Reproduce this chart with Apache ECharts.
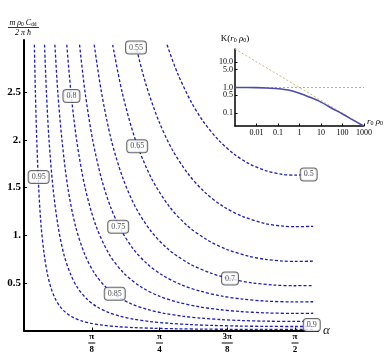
<!DOCTYPE html>
<html><head><meta charset="utf-8">
<script src="https://cdn.jsdelivr.net/npm/echarts@6/dist/echarts.min.js"></script>
<style>html,body{margin:0;padding:0;background:#fff}#c{width:388px;height:354px}</style>
</head><body><div id="c"></div>
<script>
// ---- main contour plot data: points [alpha (rad), y] ----
const c050 = [[0.829,3.0],[0.890,2.7],[0.969,2.4],[1.037,2.2],[1.127,2.0],[1.219,1.85],[1.306,1.75],[1.4,1.679],[1.5,1.638],[1.571,1.632],[1.676,1.636]];
const c055 = [[0.647,3.0],[0.704,2.6],[0.781,2.2],[0.859,1.9],[0.949,1.65],[1.049,1.45],[1.157,1.3],[1.264,1.2],[1.4,1.122],[1.5,1.096],[1.571,1.09],[1.676,1.094]];
const c065 = [[0.514,3.0],[0.569,2.5],[0.646,2.0],[0.738,1.6],[0.843,1.3],[0.947,1.1],[1.063,0.95],[1.177,0.85],[1.303,0.78],[1.4,0.747],[1.5,0.729],[1.571,0.725],[1.676,0.728]];
const c070 = [[0.407,3.0],[0.449,2.5],[0.506,2.0],[0.573,1.6],[0.645,1.3],[0.733,1.05],[0.838,0.85],[0.960,0.7],[1.087,0.6],[1.202,0.54],[1.323,0.5],[1.45,0.477],[1.571,0.47],[1.676,0.472]];
const c075 = [[0.322,3.0],[0.354,2.5],[0.398,2.0],[0.448,1.6],[0.501,1.3],[0.564,1.05],[0.636,0.85],[0.714,0.7],[0.803,0.58],[0.912,0.48],[1.027,0.41],[1.150,0.36],[1.265,0.33],[1.4,0.309],[1.571,0.30],[1.676,0.302]];
const c080 = [[0.248,3.0],[0.272,2.5],[0.305,2.0],[0.354,1.5],[0.417,1.1],[0.494,0.8],[0.580,0.6],[0.685,0.45],[0.785,0.36],[0.886,0.3],[1.013,0.25],[1.130,0.22],[1.249,0.2],[1.4,0.185],[1.571,0.18],[1.676,0.181]];
const c085 = [[0.179,3.0],[0.196,2.5],[0.220,2.0],[0.254,1.5],[0.298,1.1],[0.352,0.8],[0.409,0.6],[0.477,0.45],[0.548,0.35],[0.622,0.28],[0.717,0.22],[0.814,0.18],[0.920,0.15],[1.026,0.13],[1.141,0.115],[1.257,0.105],[1.4,0.098],[1.571,0.095],[1.676,0.0955]];
const c090 = [[0.119,3.0],[0.130,2.5],[0.145,2.0],[0.168,1.5],[0.197,1.1],[0.231,0.8],[0.268,0.6],[0.310,0.45],[0.365,0.33],[0.422,0.25],[0.490,0.19],[0.558,0.15],[0.633,0.12],[0.727,0.095],[0.846,0.075],[0.967,0.062],[1.098,0.053],[1.239,0.047],[1.4,0.0433],[1.571,0.042],[1.676,0.0422]];
const c095 = [[0.060,3.0],[0.066,2.5],[0.074,2.0],[0.085,1.5],[0.099,1.1],[0.117,0.8],[0.135,0.6],[0.156,0.45],[0.182,0.33],[0.209,0.25],[0.241,0.19],[0.281,0.14],[0.335,0.1],[0.389,0.075],[0.459,0.055],[0.546,0.04],[0.644,0.03],[0.755,0.023],[0.886,0.018],[1.041,0.0145],[1.193,0.0125],[1.4,0.0111],[1.571,0.0108],[1.676,0.0109]];

// contour labels
const labelText  = ['0.55','0.5','0.8','0.65','0.95','0.75','0.7','0.85','0.9'];
const labelAlpha = [0.649,1.650,0.275,0.656,0.085,0.546,1.194,0.526,1.668];
const labelY     = [2.97,1.639,2.462,1.934,1.611,1.090,0.545,0.385,0.059];

// main axis ticks
const xTickValues = [Math.PI/8, Math.PI/4, 3*Math.PI/8, Math.PI/2];
const xTickNum = ['π','π','3π','π'];
const xTickDen = ['8','4','8','2'];
const yTickValues = [0.5,1,1.5,2,2.5];
const yTickLabels = ['0.5','1.','1.5','2.','2.5'];

// ---- inset: K(r0 rho0), log-log ----
const kR   = [0.001,0.01,0.03,0.1,0.3,1,3,10,30,100,300,1000];
const kVal = [1.0,0.99,0.96,0.9,0.8,0.6,0.42,0.27,0.16,0.093,0.055,0.031];
const asymR   = [0.001,1000];
const asymVal = [31.6,0.0316];
const unityR   = [0.001,1000];
const unityVal = [1,1];
const insetXTicks = [0.01,0.1,1,10,100,1000];
const insetXLabels = ['0.01','0.1','1','10','100','1000'];
const insetYTicks = [0.1,0.5,1,5,10];
const insetYLabelVals = [0.1,0.5,1,5];
const insetYLabels = ['0.1','0.5','1.0','5.0'];
const insetYTopTick = [10];
const insetYTopLabel = ['10.0'];

const serif = 'Liberation Serif';
const contours = [c050,c055,c065,c070,c075,c080,c085,c090,c095];
const lg = v => Math.log10(v);

const chart = echarts.init(document.getElementById('c'), null, {renderer:'canvas'});

const series = contours.map(d => ({
  type:'line', data:d, symbol:'none', smooth:0.3, silent:true, clip:true,
  xAxisIndex:0, yAxisIndex:0,
  lineStyle:{color:'#1c1cc0', width:1.3, type:[3,2]}
}));
series.push({
  type:'scatter', xAxisIndex:0, yAxisIndex:0, symbolSize:0, silent:true, z:5,
  data: labelText.map((t,i)=>({value:[labelAlpha[i],labelY[i]], name:t})),
  label:{show:true, position:'inside', formatter:p=>p.name, fontFamily:serif, fontSize:8,
    color:'#222', backgroundColor:'#fff', borderColor:'#444', borderWidth:1, borderRadius:3,
    padding:[2,3,1,3], lineHeight:9}
});
series.push({
  type:'line', xAxisIndex:1, yAxisIndex:1, symbol:'none', silent:true,
  data: asymR.map((r,i)=>[lg(r), lg(asymVal[i])]),
  lineStyle:{color:'#c9b87a', width:1, type:[2,2]}
});
series.push({
  type:'line', xAxisIndex:1, yAxisIndex:1, symbol:'none', silent:true,
  data: unityR.map((r,i)=>[lg(r), lg(unityVal[i])]),
  lineStyle:{color:'#f08cb4', width:1.2, type:[2,2]}
});
series.push({
  type:'line', xAxisIndex:1, yAxisIndex:1, symbol:'none', silent:true, smooth:0.3,
  data: kR.map((r,i)=>[lg(r), lg(kVal[i])]),
  lineStyle:{color:'#4b4bb0', width:1.6}
});

const fracRich = {
  n:{fontFamily:serif, fontSize:9, fontWeight:'bold', lineHeight:9, align:'center', color:'#000'},
  b7:{width:7, height:1, lineHeight:3, backgroundColor:'#000', align:'center'},
  b11:{width:11, height:1, lineHeight:3, backgroundColor:'#000', align:'center'},
  d:{fontFamily:serif, fontSize:9, fontWeight:'bold', lineHeight:10, align:'center', color:'#000'}
};
const insetYLabelStyle = {margin:2, fontFamily:serif, fontSize:8, color:'#000', interval:0, hideOverlap:false};

chart.setOption({
  animation:false,
  backgroundColor:'#fff',
  grid:[{left:24, top:40, right:70, bottom:21}, {left:235, top:49, right:24, bottom:228}],
  xAxis:[{
    type:'value', gridIndex:0, min:0, max:1.704,
    axisLine:{show:true, onZero:false, lineStyle:{color:'#000', width:2}},
    axisTick:{show:true, inside:true, length:3, customValues:xTickValues, lineStyle:{color:'#000'}},
    axisLabel:{customValues:xTickValues, margin:2,
      formatter:v=>{const k=xTickValues.findIndex(t=>Math.abs(t-v)<1e-6); if(k<0) return '';
        return '{n|'+xTickNum[k]+'}\n{'+(xTickNum[k].length>1?'b11':'b7')+'| }\n{d|'+xTickDen[k]+'}';},
      rich:fracRich},
    splitLine:{show:false},
    name:'α', nameLocation:'end', nameGap:5,
    nameTextStyle:{fontFamily:serif, fontStyle:'italic', fontSize:13, color:'#222'}
  },{
    type:'value', gridIndex:1, min:-3, max:3,
    axisLine:{show:true, onZero:false, lineStyle:{color:'#000', width:1.5}},
    axisTick:{show:true, inside:true, length:2.5, customValues:insetXTicks.map(lg), lineStyle:{color:'#000'}},
    axisLabel:{customValues:insetXTicks.map(lg), margin:3, fontFamily:serif, fontSize:8, color:'#000',
      interval:0, hideOverlap:false,
      formatter:v=>{const k=insetXTicks.findIndex(t=>Math.abs(lg(t)-v)<1e-6); return k<0?'':insetXLabels[k];}},
    splitLine:{show:false},
    name:'{i|r}{s|0}{i| ρ}{s|0}', nameLocation:'end', nameGap:3,
    nameTextStyle:{verticalAlign:'bottom', rich:{
      i:{fontFamily:serif, fontStyle:'italic', fontSize:9, color:'#000'},
      s:{fontFamily:serif, fontSize:6, color:'#000', verticalAlign:'bottom', padding:[3,0,0,0]}}}
  }],
  yAxis:[{
    type:'value', gridIndex:0, min:0, max:3.05,
    axisLine:{show:true, onZero:false, lineStyle:{color:'#000', width:2}},
    axisTick:{show:true, inside:true, length:3, customValues:yTickValues, lineStyle:{color:'#000'}},
    axisLabel:{customValues:yTickValues, margin:3, fontFamily:serif, fontSize:11, fontWeight:'bold', color:'#000',
      formatter:v=>{const k=yTickValues.findIndex(t=>Math.abs(t-v)<1e-6); return k<0?'':yTickLabels[k];}},
    splitLine:{show:false}
  },{
    type:'value', gridIndex:1, min:-1.5, max:1.5,
    axisLine:{show:true, onZero:false, lineStyle:{color:'#000', width:1.5}},
    axisTick:{show:true, inside:true, length:2.5, customValues:insetYTicks.map(lg), lineStyle:{color:'#000'}},
    axisLabel:Object.assign({customValues:insetYLabelVals.map(lg),
      formatter:v=>{const k=insetYLabelVals.findIndex(t=>Math.abs(lg(t)-v)<1e-6); return k<0?'':insetYLabels[k];}}, insetYLabelStyle),
    splitLine:{show:false},
    name:'{t|K(}{i|r}{s|0}{i| ρ}{s|0}{t|)}', nameLocation:'end', nameGap:6,
    nameTextStyle:{align:'center', rich:{
      t:{fontFamily:serif, fontSize:9, color:'#000'},
      i:{fontFamily:serif, fontStyle:'italic', fontSize:9, color:'#000'},
      s:{fontFamily:serif, fontSize:6, color:'#000', verticalAlign:'bottom', padding:[3,0,0,0]}}}
  },{
    type:'value', gridIndex:1, min:-1.5, max:1.5, position:'left',
    axisLine:{show:false, onZero:false},
    axisTick:{show:false},
    axisLabel:Object.assign({customValues:insetYTopTick.map(lg),
      formatter:v=>{const k=insetYTopTick.findIndex(t=>Math.abs(lg(t)-v)<1e-6); return k<0?'':insetYTopLabel[k];}}, insetYLabelStyle),
    splitLine:{show:false}
  }],
  graphic:[
    {type:'text', style:{x:23, y:23, text:'{i|m ρ}{s|0}{i| C}{s|dd}', textAlign:'center', textVerticalAlign:'middle',
      rich:{i:{fontFamily:serif, fontStyle:'italic', fontSize:8, fill:'#000', color:'#000'},
            s:{fontFamily:serif, fontSize:5.5, color:'#000', verticalAlign:'bottom', padding:[3,0,0,0]}}}},
    {type:'line', shape:{x1:8, y1:27.5, x2:39, y2:27.5}, style:{stroke:'#000', lineWidth:0.8}},
    {type:'text', style:{x:23, y:33, text:'2 π ħ', textAlign:'center', textVerticalAlign:'middle',
      fontFamily:serif, fontStyle:'italic', fontSize:8, fill:'#000'}}
  ],
  series:series
});
</script></body></html>
